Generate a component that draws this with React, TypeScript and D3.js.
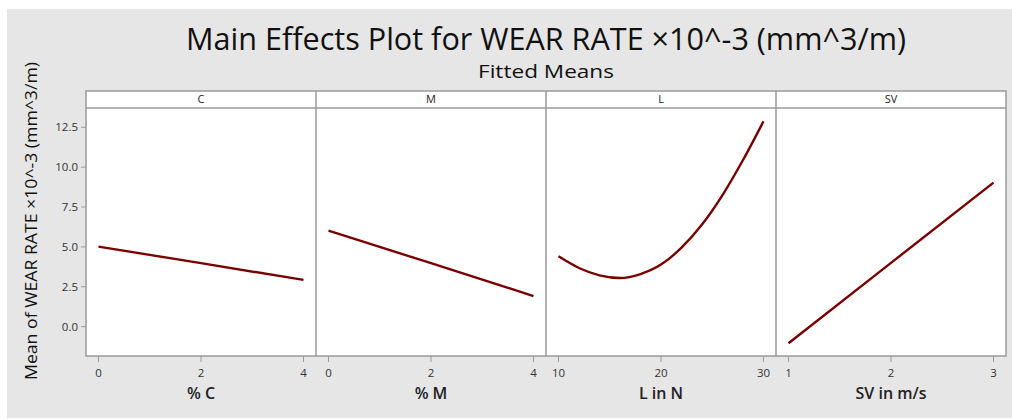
import React from "react";
import * as d3 from "d3";

const panelNames = ["C", "M", "L", "SV"];
const axisTitles = ["% C", "% M", "L in N", "SV in m/s"];
const xDomains: [number, number][] = [[0, 4], [0, 4], [10, 30], [1, 3]];
const xTickValues = [[0, 2, 4], [0, 2, 4], [10, 20, 30], [1, 2, 3]];

const cLevels = [0, 2, 4];
const cMeans = [5.02, 3.98, 2.93];
const mLevels = [0, 2, 4];
const mMeans = [6.02, 3.98, 1.92];
const lLevels = [10, 12, 14, 16, 18, 20, 22, 24, 26, 28, 30];
const lMeans = [4.41, 3.68, 3.22, 3.05, 3.3, 3.89, 4.95, 6.4, 8.25, 10.45, 12.88];
const svLevels = [1, 2, 3];
const svMeans = [-1.04, 4.0, 9.03];

const yTicks = [0, 2.5, 5, 7.5, 10, 12.5];

const seriesX = [cLevels, mLevels, lLevels, svLevels];
const seriesY = [cMeans, mMeans, lMeans, svMeans];

const W = 1012;
const H = 419;
const FONT = "'Open Sans', 'Noto Sans', sans-serif";
const LINE = "#7a0000";
const FRAME = "#9a9a9a";

export default function App() {
  const left = 86;
  const right = 1006;
  const stripTop = 91;
  const plotTop = 108;
  const plotBottom = 356;
  const pw = (right - left) / panelNames.length;
  const inset = 12.5;

  const y = d3.scaleLinear().domain([-1.84, 13.71]).range([plotBottom, plotTop]);

  return (
    <svg
      width={W}
      height={H}
      style={{ position: "absolute", left: 0, top: 0, display: "block" }}
      fontFamily={FONT}
    >
      <rect x={0} y={0} width={W} height={H} fill="#ffffff" />
      <rect x={7} y={9} width={W - 7} height={409} fill="#e6e6e6" />

      <text
        x={546}
        y={50}
        textAnchor="middle"
        fontSize={31}
        fill="#111"
        textLength={720}
        lengthAdjust="spacingAndGlyphs"
      >
        Main Effects Plot for WEAR RATE ×10^-3 (mm^3/m)
      </text>
      <text
        x={546}
        y={78}
        textAnchor="middle"
        fontSize={18}
        fill="#111"
        textLength={136}
        lengthAdjust="spacingAndGlyphs"
      >
        Fitted Means
      </text>

      <text
        transform={`translate(37,221) rotate(-90)`}
        textAnchor="middle"
        fontSize={16}
        fill="#111"
        textLength={318}
        lengthAdjust="spacingAndGlyphs"
      >
        Mean of WEAR RATE ×10^-3 (mm^3/m)
      </text>

      {yTicks.map((t) => (
        <g key={t}>
          <line x1={left - 5} x2={left} y1={y(t)} y2={y(t)} stroke={FRAME} strokeWidth={1} />
          <text
            x={left - 8}
            y={y(t)}
            dy="0.35em"
            textAnchor="end"
            fontSize={11.5}
            fill="#333"
          >
            {d3.format(".1f")(t)}
          </text>
        </g>
      ))}

      {panelNames.map((name, i) => {
        const x0 = left + i * pw;
        const x = d3
          .scaleLinear()
          .domain(xDomains[i])
          .range([x0 + inset, x0 + pw - inset]);
        const line = d3
          .line<number>()
          .x((_, j) => x(seriesX[i][j]))
          .y((v) => y(v))
          .curve(i === 2 ? d3.curveMonotoneX : d3.curveLinear);
        return (
          <g key={name}>
            <rect x={x0} y={plotTop} width={pw} height={plotBottom - plotTop} fill="#ffffff" />
            <rect x={x0} y={stripTop} width={pw} height={plotTop - stripTop} fill="#ffffff" />
            <text
              x={x0 + pw / 2}
              y={(stripTop + plotTop) / 2}
              dy="0.35em"
              textAnchor="middle"
              fontSize={11}
              fill="#222"
            >
              {name}
            </text>
            <path
              d={line(seriesY[i]) || ""}
              fill="none"
              stroke={LINE}
              strokeWidth={2.4}
              strokeLinejoin="round"
            />
            {xTickValues[i].map((t) => (
              <g key={t}>
                <line
                  x1={x(t)}
                  x2={x(t)}
                  y1={plotBottom}
                  y2={plotBottom + 6}
                  stroke={FRAME}
                  strokeWidth={1}
                />
                <text
                  x={x(t)}
                  y={373}
                  dy="0.35em"
                  textAnchor="middle"
                  fontSize={11.5}
                  fill="#333"
                >
                  {t}
                </text>
              </g>
            ))}
            <text
              x={x0 + pw / 2}
              y={393}
              dy="0.35em"
              textAnchor="middle"
              fontSize={16}
              fontWeight={600}
              fill="#222"
            >
              {axisTitles[i]}
            </text>
          </g>
        );
      })}

      <rect
        x={left}
        y={stripTop}
        width={right - left}
        height={plotBottom - stripTop}
        fill="none"
        stroke={FRAME}
        strokeWidth={1.5}
      />
      <line x1={left} x2={right} y1={plotTop} y2={plotTop} stroke={FRAME} strokeWidth={1.5} />
      {panelNames.slice(1).map((n, i) => (
        <line
          key={n}
          x1={left + (i + 1) * pw}
          x2={left + (i + 1) * pw}
          y1={stripTop}
          y2={plotBottom}
          stroke={FRAME}
          strokeWidth={1.5}
        />
      ))}
    </svg>
  );
}
